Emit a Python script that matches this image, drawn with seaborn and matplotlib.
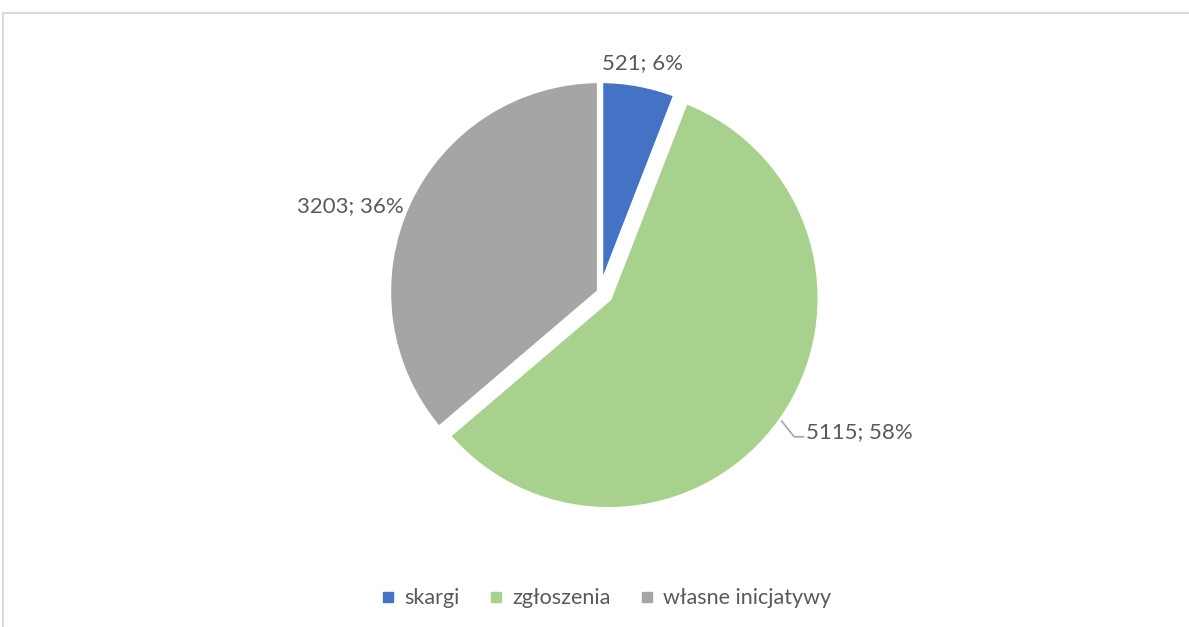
import numpy as np
import matplotlib
matplotlib.use("Agg")
import matplotlib.pyplot as plt
from matplotlib.patches import Rectangle
from matplotlib.lines import Line2D
import seaborn as sns

categories = ["skargi", "zgłoszenia", "własne inicjatywy"]
values = [521, 5115, 3203]
percents = ["6%", "58%", "36%"]
colors = ["#4472C4", "#A9D18E", "#A5A5A5"]
explode = [0.0, 0.05, 0.0]

sns.set_theme(style="white")
plt.rcParams["font.family"] = ["Lato", "DejaVu Sans"]
txt_color = "#595959"
fs = 16

fig = plt.figure(figsize=(11.89, 6.27), dpi=100)
W, H = 1189, 627
cx, cy, R = 600, 292, 212
half = 260
ax = fig.add_axes([(cx - half) / W, (H - cy - half) / H, 2 * half / W, 2 * half / H])
lim = half / R
ax.set_aspect("equal")
ax.axis("off")

wedges, _ = ax.pie(values, colors=colors, startangle=90, counterclock=False,
                   explode=explode, radius=1.0,
                   wedgeprops=dict(edgecolor="white", linewidth=4.5))
ax.set_xlim(-lim, lim)
ax.set_ylim(-lim, lim)

labels = [f"{v}; {p}" for v, p in zip(values, percents)]
for i, w in enumerate(wedges):
    mid = np.deg2rad((w.theta1 + w.theta2) / 2)
    d = np.array([np.cos(mid), np.sin(mid)])
    c = d * explode[i]
    if i == 0:
        p = c + d * 1.10
        ax.text(p[0], p[1], labels[i], ha="center", va="center", fontsize=fs, color=txt_color)
    elif i == 2:
        p = c + d * 1.02
        ax.text(p[0], p[1] - 0.02, labels[i], ha="right", va="center", fontsize=fs, color=txt_color)
    else:
        p0 = c + d * 1.0
        p1 = p0 + np.array([0.06, -0.075])
        p2 = p1 + np.array([0.045, 0.0])
        ax.plot([p0[0], p1[0], p2[0]], [p0[1], p1[1], p2[1]], color="#A6A6A6", lw=1.2)
        ax.text(p2[0] + 0.01, p2[1] + 0.022, labels[i], ha="left", va="center", fontsize=fs, color=txt_color)

handles = [Line2D([0], [0], marker="s", linestyle="none", markersize=7,
                  markerfacecolor=c, markeredgecolor=c) for c in colors]
fig.legend(handles, categories, loc="center", bbox_to_anchor=(0.508, 0.046),
           ncol=3, frameon=False, fontsize=15.5, labelcolor=txt_color,
           handletextpad=0.25, columnspacing=1.2, handlelength=1.0)

fig.patches.append(Rectangle((3 / W, -0.1), 1.2, (H - 13) / H + 0.1,
                             transform=fig.transFigure, fill=False,
                             edgecolor="#D9D9D9", linewidth=1.5))

fig.savefig("out.png", dpi=100, facecolor="white")
